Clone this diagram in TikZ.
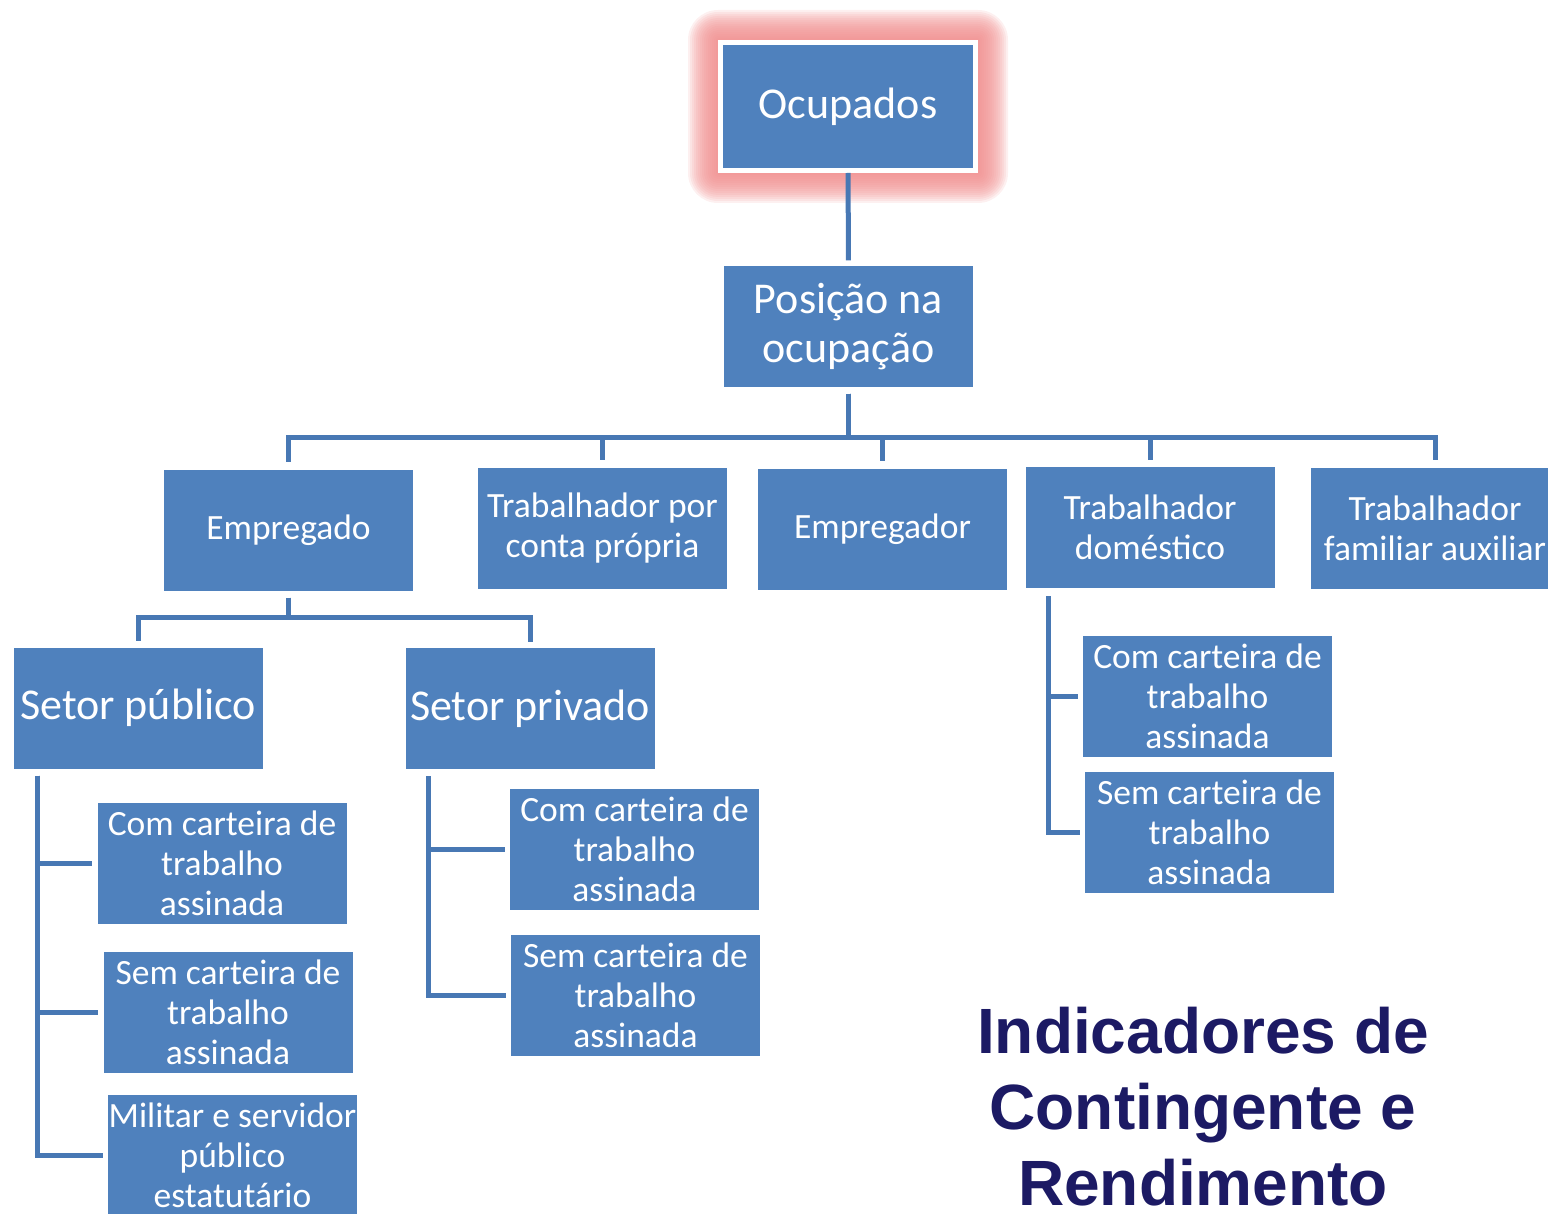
\documentclass[tikz,border=0pt]{standalone}
\usepackage{fontspec}
\setmainfont{Carlito}
\newfontfamily\titlefont{Liberation Sans}
\usetikzlibrary{positioning,backgrounds}
\definecolor{boxblue}{RGB}{79,129,189}
\definecolor{lineblue}{RGB}{72,120,180}
\definecolor{glowpink}{RGB}{240,140,140}
\definecolor{titlenavy}{RGB}{28,26,100}

\begin{document}
\begin{tikzpicture}[x=1pt,y=-1pt,
  box/.style={fill=boxblue,text=white,minimum width=249pt,minimum height=121pt,inner sep=0pt,align=center,font=\fontsize{35.5}{40}\selectfont},
  bigbox/.style={box,font=\fontsize{44}{49}\selectfont},
  conn/.style={draw=lineblue,line width=5pt}]

\useasboundingbox (0,0) rectangle (1548,1214);

\node[bigbox,draw=white,line width=5pt,minimum width=255pt,minimum height=128pt](ocup) at (848,106.5) {Ocupados};
\node[bigbox](pos) at (848.5,327) {Posição na\\ocupação};

\node[box](emp) at (288.5,530) {Empregado};
\node[box](tcp) at (602.5,528) {Trabalhador por\\conta própria};
\node[box](empr) at (882.5,529) {Empregador};
\node[box](tdom) at (1150,527.5) {Trabalhador\\doméstico};
\node[box](tfam) at (1435,528) {Trabalhador\\familiar auxiliar};

\node[bigbox](spub) at (138,708) {Setor público};
\node[bigbox](spriv) at (530,708.5) {Setor privado};

\node[box](pubcom) at (222,863.5) {Com carteira de\\trabalho\\assinada};
\node[box](pubsem) at (228,1012) {Sem carteira de\\trabalho\\assinada};
\node[box](pubmil) at (232.5,1155.5) {Militar e servidor\\público\\estatutário};
\node[box](privcom) at (634.5,849.5) {Com carteira de\\trabalho\\assinada};
\node[box](privsem) at (635.5,995) {Sem carteira de\\trabalho\\assinada};
\node[box](domcom) at (1207.5,696) {Com carteira de\\trabalho\\assinada};
\node[box](domsem) at (1209.5,832) {Sem carteira de\\trabalho\\assinada};

\node[font=\titlefont\bfseries\fontsize{64}{76}\selectfont,text=titlenavy,align=center,anchor=base](title) at (1203,1205) {Indicadores de\\Contingente e\\Rendimento};

% glow behind the top box
\begin{scope}[on background layer]
\foreach \g in {30,28,...,2}
  \fill[glowpink,opacity=0.13,rounded corners=\g pt] ([xshift=-\g pt,yshift=\g pt]ocup.north west) rectangle ([xshift=\g pt,yshift=-\g pt]ocup.south east);
\end{scope}

\draw[conn,shorten >=6pt](ocup)--(pos);

\foreach \c in {emp,tcp,empr,tdom,tfam}{
	\draw[conn,shorten <=6pt,shorten >=7pt](pos.south)--++(0,50)-|(\c.north);
}
\foreach \c in {spub,spriv}{
	\draw[conn,shorten <=7pt,shorten >=6pt](emp.south)--++(0,27)-|(\c.north);
}

\foreach \c in {pubcom,pubsem,pubmil}{
	\draw[conn,shorten <=7pt,shorten >=5pt]([xshift=24pt]spub.south west)|-(\c.west);
}
\foreach \c in {privcom,privsem}{
	\draw[conn,shorten <=7pt,shorten >=5pt]([xshift=23pt]spriv.south west)|-(\c.west);
}
\foreach \c in {domcom,domsem}{
	\draw[conn,shorten <=8pt,shorten >=5pt]([xshift=23pt]tdom.south west)|-(\c.west);
}

\end{tikzpicture}
\end{document}
